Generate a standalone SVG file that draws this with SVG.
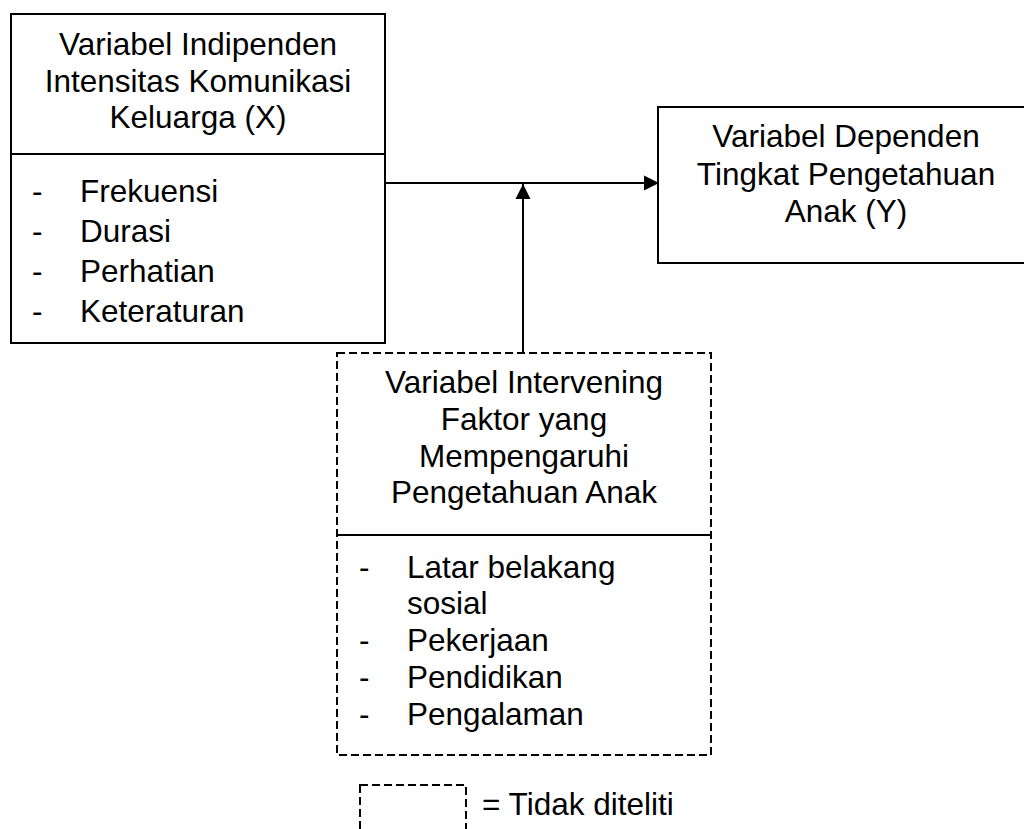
<svg xmlns="http://www.w3.org/2000/svg" width="1024" height="829" viewBox="0 0 1024 829">
<style>
text { font-family: "Liberation Sans", Arial, sans-serif; font-size: 31.5px; fill: #000; }
.c { text-anchor: middle; }
.box { fill: #fff; stroke: #000; stroke-width: 2; }
.dash { fill: none; stroke: #000; stroke-width: 2; stroke-dasharray: 8 4; }
.line { stroke: #000; stroke-width: 2; fill: none; }
</style>
<defs>
<marker id="arr" markerWidth="16" markerHeight="16" viewBox="0 0 16 16" refX="15" refY="8" orient="auto" markerUnits="userSpaceOnUse">
<path d="M0,0.5 L15,8 L0,15.5 Z" fill="#000"/>
</marker>
</defs>
<rect width="1024" height="829" fill="#fff"/>
<g id="connectors">
<line class="line" x1="385" y1="183" x2="659" y2="183" marker-end="url(#arr)"/>
<line class="line" x1="523" y1="353" x2="523" y2="184" marker-end="url(#arr)"/>
</g>
<g id="independen">
<rect class="box" x="11" y="14" width="374" height="329"/>
<line class="line" x1="11" y1="154" x2="385" y2="154"/>
<text class="c" x="198" y="55">Variabel Indipenden</text>
<text class="c" x="198" y="92">Intensitas Komunikasi</text>
<text class="c" x="198" y="128">Keluarga (X)</text>
<text x="32" y="202">-</text><text x="80" y="202">Frekuensi</text>
<text x="32" y="242">-</text><text x="80" y="242">Durasi</text>
<text x="32" y="282">-</text><text x="80" y="282">Perhatian</text>
<text x="32" y="322">-</text><text x="80" y="322">Keteraturan</text>
</g>
<g id="dependen">
<rect class="box" x="658" y="107" width="380" height="156"/>
<text class="c" x="846" y="147">Variabel Dependen</text>
<text class="c" x="846" y="185">Tingkat Pengetahuan</text>
<text class="c" x="846" y="222">Anak (Y)</text>
</g>
<g id="intervening">
<rect class="dash" x="337" y="353" width="374" height="402"/>
<line class="line" x1="337" y1="535" x2="711" y2="535"/>
<text class="c" x="524" y="393">Variabel Intervening</text>
<text class="c" x="524" y="430">Faktor yang</text>
<text class="c" x="524" y="467">Mempengaruhi</text>
<text class="c" x="524" y="503">Pengetahuan Anak</text>
<text x="359" y="578">-</text><text x="407" y="578">Latar belakang</text>
<text x="407" y="614">sosial</text>
<text x="359" y="651">-</text><text x="407" y="651">Pekerjaan</text>
<text x="359" y="688">-</text><text x="407" y="688">Pendidikan</text>
<text x="359" y="725">-</text><text x="407" y="725">Pengalaman</text>
</g>
<g id="legend">
<rect class="dash" x="360" y="785" width="106" height="60"/>
<text x="482" y="815">= Tidak diteliti</text>
</g>
</svg>
